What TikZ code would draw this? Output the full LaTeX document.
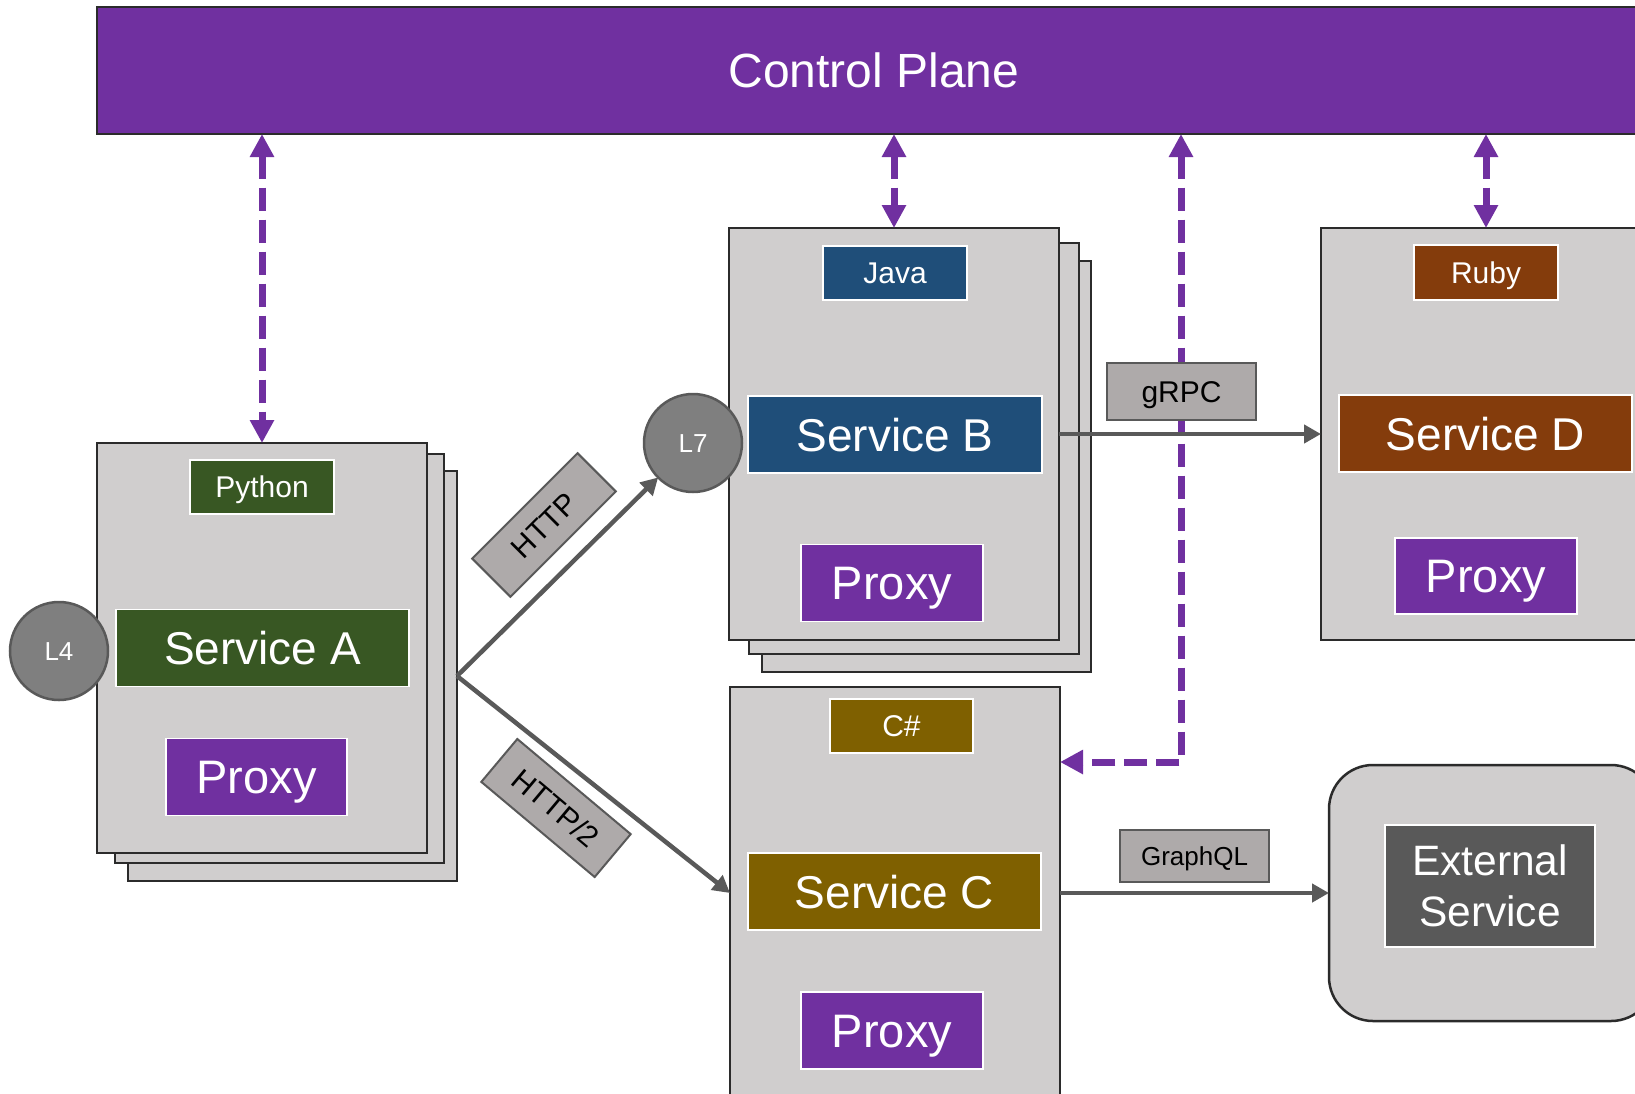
\documentclass[tikz,border=0pt]{standalone}
\usepackage{fontspec}
\setmainfont{Liberation Sans}
\usetikzlibrary{arrows.meta}

\definecolor{planePurple}{HTML}{7030A0}
\definecolor{hostGray}{HTML}{D0CECE}
\definecolor{edgeDark}{HTML}{2B2B2B}
\definecolor{pyGreen}{HTML}{385723}
\definecolor{javaBlue}{HTML}{1F4E79}
\definecolor{rubyBrown}{HTML}{843C0C}
\definecolor{csGold}{HTML}{7F6000}
\definecolor{extGray}{HTML}{595959}
\definecolor{tagGray}{HTML}{AEAAAA}
\definecolor{ballGray}{HTML}{7F7F7F}
\definecolor{wireGray}{HTML}{595959}

\begin{document}
\begin{tikzpicture}[x=1pt,y=-1pt,
  every node/.style={inner sep=0pt,outer sep=0pt},
  hostbox/.style={rectangle,draw=edgeDark,line width=2.5pt,fill=hostGray},
  langtag/.style={rectangle,draw=white,line width=1.5pt,text=white,
    minimum width=144pt,minimum height=54pt,
    font=\fontsize{30}{36}\selectfont,text height=21.5pt,text depth=0pt},
  svcname/.style={rectangle,draw=white,line width=1.5pt,text=white,
    minimum width=293pt,minimum height=77pt,
    font=\fontsize{46}{55}\selectfont,text height=33pt,text depth=0pt},
  proxybox/.style={rectangle,draw=white,line width=1.5pt,text=white,fill=planePurple,
    minimum width=182pt,minimum height=77pt,
    font=\fontsize{47}{56}\selectfont,text height=33.6pt,text depth=0pt},
  prototag/.style={rectangle,draw=wireGray,line width=2pt,fill=tagGray,text=black,
    minimum width=149pt,minimum height=55pt,
    font=\fontsize{30}{36}\selectfont,text height=21.5pt,text depth=0pt},
  layerball/.style={circle,draw=wireGray,line width=2.5pt,fill=ballGray,text=white,
    minimum size=98pt,font=\fontsize{26}{31}\selectfont,text height=18.6pt,text depth=0pt},
  flow/.style={draw=wireGray,line width=4.5pt,-{Triangle[length=17pt,width=18pt]}},
  ctrl/.style={draw=planePurple,line width=7pt,dash pattern=on 23pt off 9pt,line join=miter,
    {Triangle[length=23pt,width=23pt]}-{Triangle[length=23pt,width=23pt]}}
]
\path[use as bounding box] (0,0) rectangle (1635,1093);
\clip (0,0) rectangle (1635,1093);
\fill[white] (0,0) rectangle (1635,1093);

% control plane banner
\node[rectangle,draw=edgeDark,line width=2.5pt,fill=planePurple,text=white,
  minimum width=1554pt,minimum height=127pt,
  font=\fontsize{48}{58}\selectfont,text height=34.4pt,text depth=0pt]
  (cp) at (874,70.5) {Control Plane};

% service A stack
\node[hostbox,minimum width=329pt,minimum height=410pt] (a3) at (292.5,676) {};
\node[hostbox,minimum width=329pt,minimum height=409pt] (a2) at (279.5,658.5) {};
\node[hostbox,minimum width=330pt,minimum height=410pt] (A) at (262,648) {};
\node[langtag,fill=pyGreen] (python) at (262,487) {Python};
\node[svcname,fill=pyGreen] (svcA) at (262.5,648) {Service A};
\node[proxybox,minimum width=181pt] (proxyA) at (256.5,777) {Proxy};
\node[layerball] (L4) at (59,651) {L4};

% service B stack
\node[hostbox,minimum width=329pt,minimum height=411pt] (b3) at (926.5,466.5) {};
\node[hostbox,minimum width=330pt,minimum height=411pt] (b2) at (914,448.5) {};
\node[hostbox,minimum width=330pt,minimum height=412pt] (B) at (894,434) {};
\node[langtag,fill=javaBlue] (java) at (895,273) {Java};
\node[svcname,fill=javaBlue,minimum width=294pt] (svcB) at (895,434.5) {Service B};
\node[proxybox] (proxyB) at (892,583) {Proxy};
\node[layerball] (L7) at (693,443) {L7};

% service D
\node[hostbox,minimum width=330pt,minimum height=412pt] (D) at (1486,434) {};
\node[langtag,fill=rubyBrown,minimum height=55pt] (ruby) at (1486,272.5) {Ruby};
\node[svcname,fill=rubyBrown] (svcD) at (1485.5,433.5) {Service D};
\node[proxybox,minimum height=76pt] (proxyD) at (1486,576) {Proxy};

% service C
\node[hostbox,minimum width=330pt,minimum height=412pt] (C) at (895,893) {};
\node[langtag,fill=csGold,minimum width=143pt] (csharp) at (901.5,726) {C\#};
\node[svcname,fill=csGold] (svcC) at (894.5,891.5) {Service C};
\node[proxybox] (proxyC) at (892,1030.5) {Proxy};

% external service
\node[rectangle,rounded corners=44pt,draw=edgeDark,line width=2.5pt,fill=hostGray,
  minimum width=326pt,minimum height=256pt] (ext) at (1492,893) {};
\node[rectangle,draw=white,line width=1.5pt,fill=extGray,text=white,
  minimum width=210pt,minimum height=122pt,align=center,
  font=\fontsize{42.5}{51}\selectfont,text height=81.5pt,text depth=0pt]
  (extname) at (1490,886) {External\\Service};

% control plane links
\draw[ctrl] (A.north |- cp.south) -- (A.north);
\draw[ctrl] (B.north |- cp.south) -- (B.north);
\draw[ctrl] (D.north |- cp.south) -- (D.north);
\coordinate (cbend) at (1181,762);
\draw[ctrl] (cbend |- cp.south) -- (cbend) -- (cbend -| C.east);

% traffic between services
\draw[flow] (a3.east) -- (L7);
\draw[flow] (a3.east) -- (C.west);
\draw[flow] (B.east) -- (D.west);
\draw[flow] (C.east) -- (ext.west);

% protocol tags
\node[prototag,rotate=45,minimum height=54pt] (http) at (544,525) {HTTP};
\node[prototag,rotate=-40,minimum width=148pt,minimum height=56pt] (http2) at (556,808) {HTTP/2};
\node[prototag,minimum height=57pt] (grpc) at (1181.5,391.5) {gRPC};
\node[prototag,minimum height=52pt,font=\fontsize{26}{31}\selectfont,text height=18.6pt] (gql) at (1194.5,856) {GraphQL};
\end{tikzpicture}
\end{document}
